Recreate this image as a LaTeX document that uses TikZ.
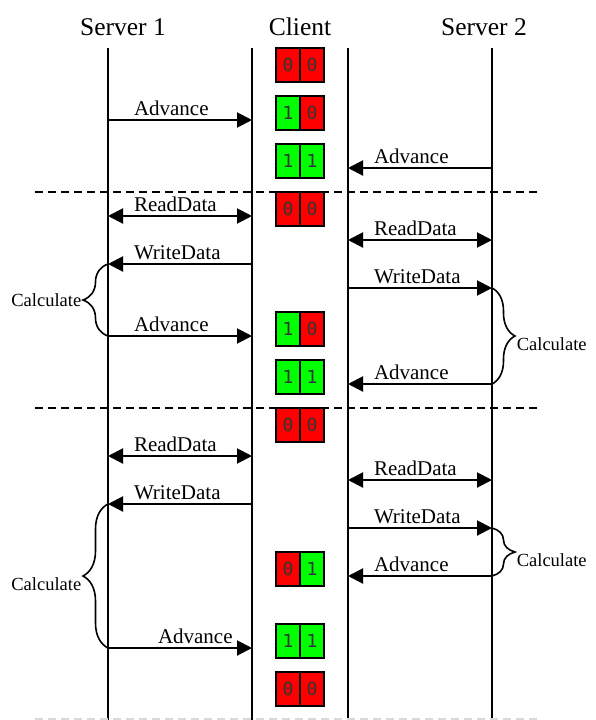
\documentclass[tikz,border=0pt]{standalone}
\usepackage{fontspec}
\setmainfont{Liberation Serif}
\newfontfamily\cellfont{DejaVu Sans Mono}
\usetikzlibrary{arrows.meta,decorations.pathreplacing}
\colorlet{bitcol0}{red}
\colorlet{bitcol1}{green}

\tikzset{
  lifeline/.style={line width=1.8pt},
  msgR/.style={line width=2pt, -{Triangle[length=15pt,width=15pt]}},
  msgL/.style={line width=2pt, {Triangle[length=15pt,width=15pt]}-},
  msgLR/.style={line width=2pt, {Triangle[length=15pt,width=15pt]}-{Triangle[length=15pt,width=15pt]}},
  lbl/.style={anchor=base west, inner sep=0pt, xshift=25pt, yshift=4.5pt, font=\fontsize{21}{24}\selectfont},
  head/.style={anchor=base, font=\fontsize{25.5}{28}\selectfont},
  bit/.style={draw=black, line width=1.5pt, fill=bitcol#1, minimum width=24pt, minimum height=34pt,
    inner sep=0pt, text=black!80, font=\fontsize{18}{18}\selectfont\cellfont},
  phase/.style={line width=2pt, dash pattern=on 8pt off 5pt},
  bracket/.style={decorate, line width=1.6pt},
  calcnote/.style={inner sep=1pt, font=\fontsize{18.5}{20}\selectfont}
}

\begin{document}
\begin{tikzpicture}[x=1pt,y=-1pt]
\useasboundingbox (0,0) rectangle (595,720);

\node[head] (srv1) at (123,35) {Server 1};
\node[head] (clnt) at (300,35) {Client};
\node[head] (srv2) at (484,35) {Server 2};

\foreach \n/\x in {s1/108,cl/252,cr/348,s2/492}{
  \coordinate (\n-top) at (\x,48);
  \coordinate (\n-bot) at (\x,720);
  \draw[lifeline] (\n-top) -- (\n-bot);
  \foreach \r in {120,168,216,240,264,288,336,384,456,480,504,528,576,648}
    \coordinate (\n-\r) at (\x,\r);
}

\coordinate (d1a) at (35,192);
\coordinate (d1b) at (540,192);
\coordinate (d2a) at (35,408);
\coordinate (d2b) at (540,408);
\coordinate (d3a) at (35,719);
\coordinate (d3b) at (540,719);
\draw[phase] (d1a) -- (d1b);
\draw[phase] (d2a) -- (d2b);
\draw[phase, black!15] (d3a) -- (d3b);

\foreach \yc/\a/\b [count=\i] in {65/0/0,113/1/0,161/1/1,209/0/0,329/1/0,377/1/1,425/0/0,569/0/1,641/1/1,689/0/0}{
  \node[bit=\a] (b\i-l) at (288,\yc) {\a};
  \node[bit=\b] (b\i-r) at (312,\yc) {\b};
}

\draw[msgR] (s1-120) -- (cl-120) node[lbl, at start] {Advance};
\draw[msgL] (cr-168) -- (s2-168) node[lbl, at start] {Advance};

\draw[msgLR] (s1-216) -- (cl-216) node[lbl, at start] {ReadData};
\draw[msgLR] (cr-240) -- (s2-240) node[lbl, at start] {ReadData};
\draw[msgL] (s1-264) -- (cl-264) node[lbl, at start] {WriteData};
\draw[msgR] (cr-288) -- (s2-288) node[lbl, at start] {WriteData};
\draw[msgR] (s1-336) -- (cl-336) node[lbl, at start] {Advance};
\draw[msgL] (cr-384) -- (s2-384) node[lbl, at start] {Advance};
\draw[bracket, decoration={brace, amplitude=25pt}] (s1-336) -- (s1-264)
  node[calcnote, midway, xshift=-25pt, anchor=east] {Calculate};
\draw[bracket, decoration={brace, amplitude=23pt}] (s2-288) -- (s2-384)
  node[calcnote, midway, xshift=23pt, anchor=north west] {Calculate};

\draw[msgLR] (s1-456) -- (cl-456) node[lbl, at start] {ReadData};
\draw[msgLR] (cr-480) -- (s2-480) node[lbl, at start] {ReadData};
\draw[msgL] (s1-504) -- (cl-504) node[lbl, at start] {WriteData};
\draw[msgR] (cr-528) -- (s2-528) node[lbl, at start] {WriteData};
\draw[msgL] (cr-576) -- (s2-576) node[lbl, at start] {Advance};
\draw[msgR] (s1-648) -- (cl-648) node[lbl, at start, xshift=24pt] {Advance};
\draw[bracket, decoration={brace, amplitude=25pt}] (s1-648) -- (s1-504)
  node[calcnote, midway, xshift=-25pt, anchor=north east] {Calculate};
\draw[bracket, decoration={brace, amplitude=23pt}] (s2-528) -- (s2-576)
  node[calcnote, midway, xshift=23pt, anchor=north west] {Calculate};
\end{tikzpicture}
\end{document}
